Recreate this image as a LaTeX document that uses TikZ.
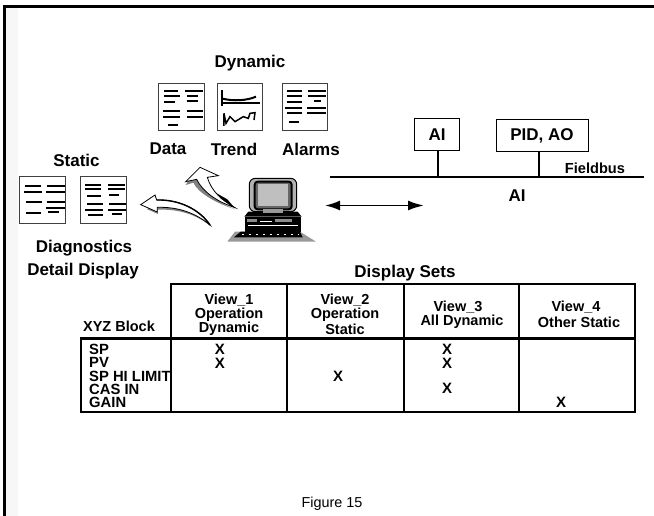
\documentclass[tikz,border=0pt]{standalone}
\usepackage{fontspec}
\setmainfont{Liberation Sans}
\usetikzlibrary{arrows.meta}
\tikzset{
  lbl/.style={font=\fontsize{14.5}{14.5}\selectfont\bfseries,inner sep=0pt,text=black},
  biglbl/.style={lbl,font=\fontsize{17}{17}\selectfont\bfseries},
  rowlbl/.style={lbl,anchor=west,font=\fontsize{14.8}{14.8}\selectfont\bfseries},
  markx/.style={lbl,font=\fontsize{15}{15}\selectfont\bfseries},
  figcap/.style={font=\fontsize{14.4}{14.4}\selectfont,inner sep=0pt},
  docbox/.style={draw=black!75,line width=1pt,fill=white},
  docline/.style={line width=2pt,black},
  devbox/.style={draw=black,line width=1pt,fill=white,inner sep=0pt,font=\fontsize{17}{17}\selectfont\bfseries},
  grid/.style={line width=2.8pt,black},
  bus/.style={line width=1.9pt,black},
  link/.style={line width=1.7pt,black},
  zoomed/.style={x=0.33333pt,y=-0.33333pt,yshift=-60pt}
}
\newcommand{\hl}[3]{\draw[docline] (#1,#3) -- (#2,#3);}
\begin{document}
\begin{tikzpicture}[x=1pt,y=-1pt]
\useasboundingbox (0,0) rectangle (654,516);
\fill[white] (0,0) rectangle (654,516);
\fill[black!3] (6,8) rectangle (18,516);
\draw[line width=3pt,black] (4.5,516) -- (4.5,7) -- (654,7);
% Dynamic / static labels
\node[biglbl] (dyn) at (250,63) {Dynamic};
\node[biglbl] (ldata) at (168,149) {Data};
\node[biglbl] (ltrend) at (234,149) {Trend};
\node[biglbl] (lalarm) at (311,149) {Alarms};
\node[biglbl] (stat) at (76.5,160) {Static};
\node[biglbl] (diag) at (84,248) {Diagnostics};
\node[biglbl] (detail) at (83,271) {Detail Display};
\begin{scope}[zoomed]
  % document icons
  \draw[docbox] (476,72) rectangle (613,211);
  \hl{492}{535}{92}\hl{492}{540}{108}\hl{492}{525}{125}\hl{490}{540}{153}\hl{490}{540}{172}\hl{505}{535}{195}
  \hl{556}{610}{92}\hl{560}{595}{108}\hl{560}{593}{122}\hl{560}{610}{153}\hl{560}{610}{170}
  \draw[docbox] (652,72) rectangle (789,211);
  \draw[docline] (665,90) -- (665,137);
  \draw[docline] (665,128) -- (780,128);
  \draw[docline] (668,116) .. controls (700,124) and (740,122) .. (768,110);
  \draw[docline,line width=1.5pt] (672,198) -- (672,160) -- (678,190) -- (690,170) -- (705,185) -- (730,170) -- (745,175) -- (750,160) -- (765,158) -- (762,180);
  \draw[docbox] (847,72) rectangle (983,211);
  \hl{862}{905}{92}\hl{860}{905}{108}\hl{860}{905}{125}\hl{855}{905}{143}\hl{860}{905}{158}\hl{868}{898}{185}
  \hl{925}{978}{92}\hl{925}{978}{108}\hl{942}{962}{122}\hl{922}{978}{143}\hl{922}{978}{158}
  \draw[docbox] (60,351) rectangle (196,492);
  \hl{75}{122}{377}\hl{72}{125}{395}\hl{78}{125}{425}\hl{78}{122}{458}
  \hl{140}{195}{378}\hl{138}{195}{395}\hl{140}{195}{425}\hl{138}{195}{443}\hl{145}{178}{456}
  \draw[docbox] (241,351) rectangle (379,492);
  \hl{255}{303}{375}\hl{255}{303}{388}\hl{262}{303}{408}\hl{262}{308}{432}\hl{255}{308}{449}\hl{265}{308}{465}
  \hl{323}{375}{375}\hl{323}{375}{388}\hl{328}{358}{404}\hl{328}{378}{432}\hl{325}{378}{449}\hl{335}{365}{461}
  % curved arrow up
  \def\arrowA{(705,443) .. controls (650,425) and (608,395) .. (590,358) -- (557,365) -- (600,322) -- (655,347) -- (622,352) .. controls (635,395) and (665,420) .. (705,443) -- cycle}
  \fill[black!50] (705,448) .. controls (650,430) and (595,400) .. (580,368) -- (557,375) -- (575,345) -- (600,360) .. controls (620,400) and (660,430) .. (705,448) -- cycle;
  \draw[black,line width=0.8pt,fill=white] \arrowA;
  \fill[black] (705,445) -- (662,415) -- (650,400) -- (682,418) -- cycle;
  % curved arrow left
  \def\arrowB{(630,495) .. controls (590,462) and (540,440) .. (472,442) -- (472,456) -- (422,434) -- (465,405) -- (470,420) .. controls (540,418) and (600,450) .. (630,495) -- cycle}
  \fill[black!50] (630,497) .. controls (590,465) and (540,447) .. (474,449) -- (474,462) -- (440,447) -- (480,435) .. controls (540,435) and (600,460) .. (630,497) -- cycle;
  \draw[black,line width=0.8pt,fill=white] \arrowB;
  \draw[black,line width=1.4pt] (470,420) .. controls (540,418) and (600,450) .. (630,495);
  % computer
  \fill[black!40] (705,515) -- (900,515) -- (948,545) -- (682,545) -- cycle;
  \draw[black,line width=1pt,fill=black!30,rounded corners=6pt] (748,355) rectangle (890,455);
  \draw[black,line width=2pt,fill=black!60,rounded corners=3pt] (764,365) rectangle (875,448);
  \fill[black!25] (775,373) rectangle (863,438);
  \fill[black] (745,455) -- (893,455) -- (905,470) -- (733,470) -- cycle;
  \fill[black!40] (790,448) rectangle (850,458);
  \fill[black] (735,470) rectangle (903,515);
  \fill[black!45] (742,478) rectangle (772,487);
  \fill[black!45] (826,478) rectangle (875,487);
  \draw[white,line width=0.6pt] (780,484) -- (815,484);
  \draw[white,line width=0.6pt] (745,496) -- (895,496);
  \fill[black] (722,515) -- (900,515) -- (908,532) -- (702,532) -- cycle;
  \draw[white,line width=0.6pt,dash pattern=on 2pt off 5pt] (725,522) -- (895,522);
\end{scope}
% fieldbus
\coordinate (busL) at (330,177);
\coordinate (busR) at (644,177);
\node[devbox,minimum width=45.5pt,minimum height=32pt] (ai) at (437,135) {AI};
\node[devbox,minimum width=92pt,minimum height=31.5pt] (pid) at (542,135.75) {PID, AO};
\coordinate (tapA) at (438,177);
\coordinate (tapB) at (539,177);
\draw[bus] (busL) -- (busR);
\draw[link] (ai.south -| tapA) -- (tapA);
\draw[link] (pid.south -| tapB) -- (tapB);
\node[lbl,font=\fontsize{14.6}{14.6}\selectfont\bfseries] (fb) at (595,168) {Fieldbus};
\node[biglbl] (aib) at (517,196) {AI};
\coordinate (dL) at (325,205.5);
\coordinate (dR) at (424,205.5);
\draw[line width=1.9pt,{Latex[length=15pt,width=10pt]}-{Latex[length=16pt,width=10pt]}] (dL) -- (dR);
% table
\draw[grid] (171,338.5) -- (171,284) -- (635,284) -- (635,412) -- (81,412) -- (81,338.5) -- (635,338.5);
\draw[grid] (171,338.5) -- (171,412);
\draw[grid] (287,284) -- (287,412);
\draw[grid] (404,284) -- (404,412);
\draw[grid] (519,284) -- (519,412);
\node[biglbl] (sets) at (405,273) {Display Sets};
\node[lbl] (xyz) at (119,326) {XYZ Block};
\node[lbl] (v1a) at (229,300) {View\_1};
\node[lbl] (v1b) at (229,315) {Operation};
\node[lbl] (v1c) at (229,329) {Dynamic};
\node[lbl] (v2a) at (345,300) {View\_2};
\node[lbl] (v2b) at (345,315) {Operation};
\node[lbl] (v2c) at (345,329) {Static};
\node[lbl] (v3a) at (458,307) {View\_3};
\node[lbl] (v3b) at (462,322) {All Dynamic};
\node[lbl] (v4a) at (576,307) {View\_4};
\node[lbl] (v4b) at (579,322) {Other Static};
\node[rowlbl] (r1) at (89,349) {SP};
\node[rowlbl] (r2) at (89,362) {PV};
\node[rowlbl] (r3) at (89,376) {SP HI LIMIT};
\node[rowlbl] (r4) at (89,389) {CAS IN};
\node[rowlbl] (r5) at (89,402) {GAIN};
\node[markx] (x1) at (220,349) {X};
\node[markx] (x2) at (220,363) {X};
\node[markx] (x3) at (338,376) {X};
\node[markx] (x4) at (447,349) {X};
\node[markx] (x5) at (447,363) {X};
\node[markx] (x6) at (447,388) {X};
\node[markx] (x7) at (561,402) {X};
\node[figcap] (fig) at (332,504) {Figure 15};
\end{tikzpicture}
\end{document}
